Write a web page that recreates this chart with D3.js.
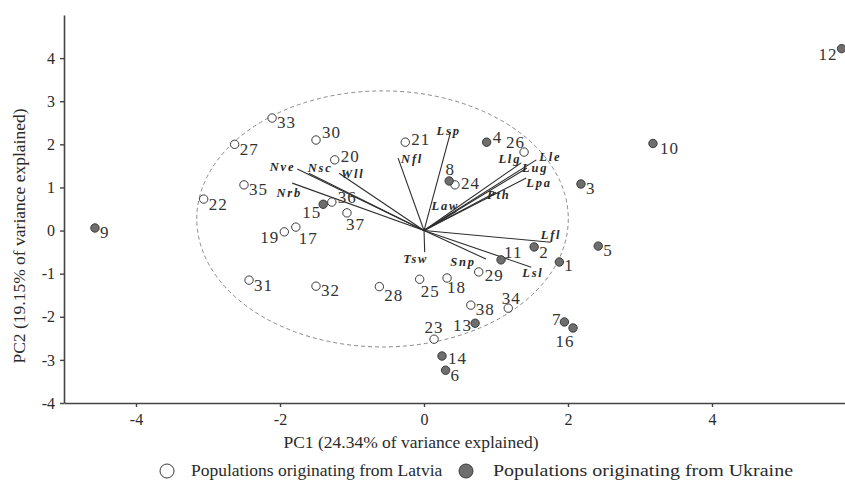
<!DOCTYPE html>
<html>
<head>
<meta charset="utf-8">
<script src="https://cdn.jsdelivr.net/npm/d3@7"></script>
<style>
  html, body { margin: 0; padding: 0; background: #fff; }
  svg { display: block; }
  svg text { font-family: "Liberation Serif", "Times New Roman", serif; }
</style>
</head>
<body>
<svg id="chart" width="845" height="486"></svg>
<script>
// ---- Data ----
const latviaIds = [17, 18, 19, 20, 21, 22, 23, 24, 25, 26, 27, 28, 29, 30, 31, 32, 33, 34, 35, 36, 37, 38];
const latviaPC1 = [-1.78, 0.32, -1.94, -1.24, -0.26, -3.06, 0.14, 0.43, -0.06, 1.39, -2.63, -0.62, 0.76, -1.50, -2.43, -1.50, -2.11, 1.17, -2.50, -1.28, -1.07, 0.65];
const latviaPC2 = [0.08, -1.10, -0.03, 1.64, 2.05, 0.73, -2.52, 1.06, -1.13, 1.82, 2.00, -1.30, -0.96, 2.10, -1.15, -1.29, 2.61, -1.80, 1.06, 0.66, 0.41, -1.73];

const ukraineIds = [1, 2, 3, 4, 5, 6, 7, 8, 9, 10, 11, 12, 13, 14, 15, 16];
const ukrainePC1 = [1.88, 1.53, 2.18, 0.87, 2.42, 0.30, 1.95, 0.35, -4.57, 3.18, 1.07, 5.80, 0.71, 0.25, -1.40, 2.07];
const ukrainePC2 = [-0.73, -0.38, 1.08, 2.05, -0.36, -3.24, -2.12, 1.15, 0.06, 2.02, -0.68, 4.22, -2.15, -2.91, 0.61, -2.26];

const traitNames = ["Nve", "Nsc", "Wll", "Nrb", "Nfl", "Lsp", "Law", "Llg", "Lle", "Lug", "Lpa", "Pth", "Lfl", "Lsl", "Snp", "Tsw"];
const traitPC1 = [-1.76, -1.60, -1.18, -1.83, -0.36, 0.37, 0.45, 1.35, 1.56, 1.43, 1.42, 1.00, 1.76, 1.49, 0.86, 0.01];
const traitPC2 = [1.43, 1.33, 1.33, 1.10, 1.68, 2.29, 0.45, 1.57, 1.64, 1.45, 1.22, 0.89, -0.27, -0.85, -0.66, -0.50];

const ellipseCenter = [-0.576, 0.27];
const ellipseRadii = [2.58, 2.97];

const xTicks = [-4, -2, 0, 2, 4];
const yTicks = [-4, -3, -2, -1, 0, 1, 2, 3, 4];
const xTitle = "PC1 (24.34% of variance explained)";
const yTitle = "PC2 (19.15% of variance explained)";
const legendLabels = ["Populations originating from Latvia", "Populations originating from Ukraine"];

// ---- Layout (label placement, pixel offsets) ----
const pointLabelLayout = {
  1: ["start", 5, 9], 2: ["start", 5, 11], 3: ["start", 5, 10], 4: ["start", 6, 1],
  5: ["start", 5, 10], 6: ["start", 5, 11], 7: ["end", -3, 3], 8: ["middle", 1, -6],
  9: ["start", 5, 10], 10: ["start", 7, 11], 11: ["start", 3, -2], 12: ["end", -4, 11],
  13: ["end", -3, 8], 14: ["start", 6, 8], 15: ["end", -2, 14], 16: ["middle", -8, 19],
  17: ["start", 3, 17], 18: ["start", 0, 15], 19: ["end", -5, 11], 20: ["start", 6, 2],
  21: ["start", 6, 3], 22: ["start", 5, 11], 23: ["middle", 0, -6], 24: ["start", 6, 4],
  25: ["start", 1, 18], 26: ["end", 1, -4], 27: ["start", 5, 11], 28: ["start", 5, 14],
  29: ["start", 6, 9], 30: ["start", 6, -2], 31: ["start", 5, 11], 32: ["start", 5, 10],
  33: ["start", 5, 10], 34: ["middle", 3, -4], 35: ["start", 5, 10], 36: ["start", 6, 1],
  37: ["start", -1, 17], 38: ["start", 5, 10]
};
const traitLabelLayout = {
  Nve: ["end", -2, 2], Nsc: ["start", -1, -1], Wll: ["start", 2, 5], Nrb: ["middle", -3, 14],
  Nfl: ["start", 3, 5], Lsp: ["middle", -2, 3], Law: ["middle", -11, -1], Llg: ["end", 0, 0],
  Lle: ["start", 3, 1], Lug: ["start", -5, 4], Lpa: ["start", 0, 9], Pth: ["start", -9, 7],
  Lfl: ["start", -10, -3], Lsl: ["start", -9, 10], Snp: ["end", -10, 7], Tsw: ["middle", -9, 11]
};

// ---- Chart ----
const FONT = "Liberation Serif, Times New Roman, serif";
const svg = d3.select("#chart");
const plotLeft = 64, plotTop = 15, plotBottom = 403;
const x = d3.scaleLinear().domain([-5, 6]).range([plotLeft, plotLeft + 11 * 72]);
const y = d3.scaleLinear().domain([-4, 5]).range([plotBottom, plotTop]);

const textColor = "#2a2a2a";

svg.append("defs").append("clipPath").attr("id", "plotclip")
  .append("rect").attr("x", plotLeft).attr("y", 0).attr("width", 845 - plotLeft).attr("height", plotBottom);

const plot = svg.append("g").attr("clip-path", "url(#plotclip)");

// ellipse
plot.append("ellipse")
  .attr("cx", x(ellipseCenter[0])).attr("cy", y(ellipseCenter[1]))
  .attr("rx", x(ellipseRadii[0]) - x(0)).attr("ry", y(0) - y(ellipseRadii[1]))
  .attr("fill", "none").attr("stroke", "#8a8a8a").attr("stroke-width", 1)
  .attr("stroke-dasharray", "4,3");

// loading vectors
const traits = traitNames.map((n, i) => ({ name: n, px: traitPC1[i], py: traitPC2[i] }));
plot.selectAll("line.vec").data(traits).join("line").attr("class", "vec")
  .attr("x1", x(0)).attr("y1", y(0))
  .attr("x2", d => x(d.px)).attr("y2", d => y(d.py))
  .attr("stroke", "#2e2e2e").attr("stroke-width", 1.1);

plot.selectAll("text.vlab").data(traits).join("text").attr("class", "vlab")
  .attr("x", d => x(d.px) + traitLabelLayout[d.name][1])
  .attr("y", d => y(d.py) + traitLabelLayout[d.name][2])
  .attr("text-anchor", d => traitLabelLayout[d.name][0])
  .attr("font-family", FONT)
  .attr("font-size", 12.5).attr("font-weight", "bold").attr("font-style", "italic")
  .attr("letter-spacing", 1.8).attr("fill", textColor)
  .text(d => d.name);

// points
const pts = [];
latviaIds.forEach((id, i) => pts.push({ id, px: latviaPC1[i], py: latviaPC2[i], g: "L" }));
ukraineIds.forEach((id, i) => pts.push({ id, px: ukrainePC1[i], py: ukrainePC2[i], g: "U" }));

plot.selectAll("circle.pt").data(pts).join("circle").attr("class", "pt")
  .attr("cx", d => x(d.px)).attr("cy", d => y(d.py)).attr("r", 4.2)
  .attr("fill", d => d.g === "L" ? "#fff" : "#6e6e6e")
  .attr("stroke", "#3a3a3a").attr("stroke-width", 1);

plot.selectAll("text.plab").data(pts).join("text").attr("class", "plab")
  .attr("x", d => x(d.px) + pointLabelLayout[d.id][1])
  .attr("y", d => y(d.py) + pointLabelLayout[d.id][2])
  .attr("text-anchor", d => pointLabelLayout[d.id][0])
  .attr("font-family", FONT)
  .attr("font-size", 17).attr("letter-spacing", 1).attr("fill", "#333")
  .text(d => d.id);

// axes
const axisColor = "#444";
const xAxis = svg.append("g").attr("transform", `translate(0,${plotBottom})`)
  .call(d3.axisBottom(x).tickValues(xTicks).tickSize(4).tickSizeOuter(0).tickFormat(d3.format("d")));
const yAxis = svg.append("g").attr("transform", `translate(${plotLeft},0)`)
  .call(d3.axisLeft(y).tickValues(yTicks).tickSize(4).tickSizeOuter(0).tickFormat(d3.format("d")));
[xAxis, yAxis].forEach(a => {
  a.attr("font-family", FONT);
  a.select(".domain").attr("stroke", axisColor).attr("stroke-width", 1.6);
  a.selectAll(".tick line").attr("stroke", axisColor).attr("stroke-width", 1.4);
  a.selectAll(".tick text").attr("fill", textColor).attr("font-size", 16)
    .attr("font-family", FONT).text(d => d < 0 ? "-" + Math.abs(d) : d);
});
xAxis.selectAll(".tick text").attr("dy", "0.95em");
yAxis.selectAll(".tick text").attr("x", -9);

// titles
svg.append("text").attr("x", 411).attr("y", 448).attr("text-anchor", "middle")
  .attr("font-family", FONT).attr("font-size", 17.5).attr("fill", textColor).text(xTitle);
svg.append("text").attr("transform", `translate(25,236) rotate(-90)`).attr("text-anchor", "middle")
  .attr("font-family", FONT).attr("font-size", 17.5).attr("fill", textColor).text(yTitle);

// legend
const legend = svg.append("g");
const legY = 476;
legend.append("circle").attr("cx", 167).attr("cy", legY - 5).attr("r", 7)
  .attr("fill", "#fff").attr("stroke", "#3a3a3a").attr("stroke-width", 1);
legend.append("text").attr("x", 191).attr("y", legY).attr("font-family", FONT)
  .attr("font-size", 17.5).attr("fill", textColor).text(legendLabels[0]);
legend.append("circle").attr("cx", 466).attr("cy", legY - 5).attr("r", 7)
  .attr("fill", "#6e6e6e").attr("stroke", "#3a3a3a").attr("stroke-width", 1);
legend.append("text").attr("x", 493).attr("y", legY).attr("font-family", FONT)
  .attr("font-size", 17.5).attr("fill", textColor)
  .attr("textLength", 300).attr("lengthAdjust", "spacingAndGlyphs")
  .text(legendLabels[1]);
</script>
</body>
</html>
